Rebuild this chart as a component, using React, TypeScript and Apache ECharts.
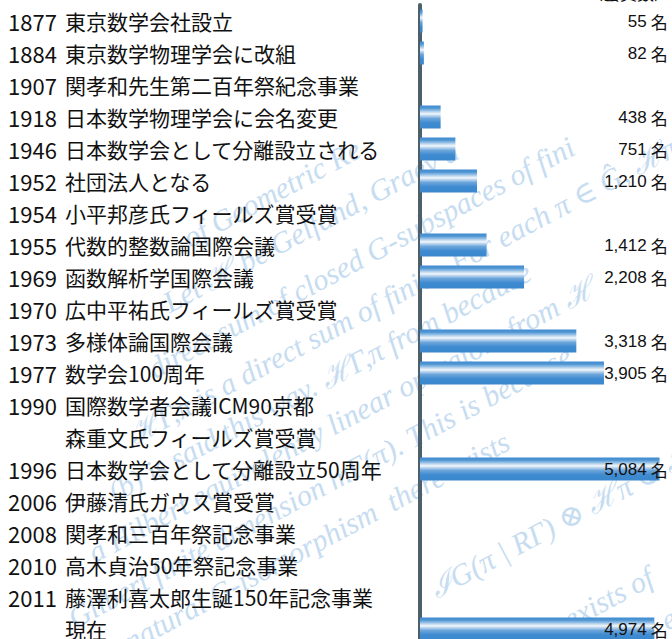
import React, { useEffect, useRef } from "react";
import * as echarts from "echarts";

// ---- data ----
const years: string[] = [
  "1877", "1884", "1907", "1918", "1946", "1952", "1954", "1955", "1969", "1970",
  "1973", "1977", "1990", "", "1996", "2006", "2008", "2010", "2011", "",
];
const events: string[] = [
  "東京数学会社設立",
  "東京数学物理学会に改組",
  "関孝和先生第二百年祭紀念事業",
  "日本数学物理学会に会名変更",
  "日本数学会として分離設立される",
  "社団法人となる",
  "小平邦彦氏フィールズ賞受賞",
  "代数的整数論国際会議",
  "函数解析学国際会議",
  "広中平祐氏フィールズ賞受賞",
  "多様体論国際会議",
  "数学会100周年",
  "国際数学者会議ICM90京都",
  "森重文氏フィールズ賞受賞",
  "日本数学会として分離設立50周年",
  "伊藤清氏ガウス賞受賞",
  "関孝和三百年祭記念事業",
  "高木貞治50年祭記念事業",
  "藤澤利喜太郎生誕150年記念事業",
  "現在",
];
const members: (number | null)[] = [
  55, 82, null, 438, 751, 1210, null, 1412, 2208, null,
  3318, 3905, null, null, 5084, null, null, null, null, 4974,
];
const unitLabel = "（会員数）";
const unitSuffix = "名";
const axisMax = 5300;

// decorative background text
const watermarkLines: string[] = [
  "of Geometric Representation, the π-isotypic ) . Gelfand",
  "Let ℋ be Gelfand, Graev and Piatetski-Shapiro",
  "direct sum of closed G-subspaces of finite",
  "ℋΓ,π is a direct sum of finite. For each π ∈ Ĝ, ℋπ",
  "(b) is said this way. ℋΓ,π from because",
  "a Hilbert equivalently linear operators from ℋ",
  "Gilbert finite dimension mΓ(π). This is because",
  "of the natural G-isomorphism  there exists",
  "ℐG(π | RΓ) ⊗ ℋπ ⊕ ℋ",
  "exists of",
  "for each",
];

export default function App() {
  const ref = useRef<HTMLDivElement>(null);
  useEffect(() => {
    if (!ref.current) return;
    const chart = echarts.init(ref.current, undefined, { renderer: "svg" });

    const ang = 0.49;
    const slope = Math.tan(ang);
    const sinA = Math.sin(ang);
    const yAt300 = [178, 232, 290, 345, 392, 442, 497, 550, 660, 762, 815];
    const startsX = [185, 165, 150, 130, 110, 90, 70, 60, 432, 565, 625];
    const watermark = watermarkLines.map((t, k) => {
      const sx = startsX[k];
      const sy = yAt300[k] + (300 - sx) * slope;
      const w = Math.max(20, (sy - 140) / sinA);
      return {
        type: "text",
        x: sx,
        y: sy,
        rotation: ang,
        silent: true,
        z: -10,
        style: {
          text: t,
          fill: "#c6dcf1",
          font: 'italic 30px "Liberation Serif", "DejaVu Serif", serif',
          textAlign: "left",
          textVerticalAlign: "middle",
          align: "left",
          verticalAlign: "middle",
          width: w,
          overflow: "truncate",
          ellipsis: " ",
        },
      };
    });

    const gradient = new echarts.graphic.LinearGradient(0, 0, 0, 1, [
      { offset: 0, color: "#3e8ad0" },
      { offset: 0.12, color: "#5197d4" },
      { offset: 0.36, color: "#f2f7fc" },
      { offset: 0.56, color: "#6ea6dc" },
      { offset: 0.75, color: "#3f8bd0" },
      { offset: 1, color: "#3a87cd" },
    ]);

    chart.setOption({
      animation: false,
      backgroundColor: "#ffffff",
      graphic: [
        ...watermark,
        {
          type: "text",
          x: 671,
          y: -8,
          silent: true,
          style: {
            text: unitLabel,
            fill: "#111",
            font: '17px "Noto Sans CJK JP"',
            textAlign: "right",
            textVerticalAlign: "middle",
            align: "right",
            verticalAlign: "middle",
          },
        },
      ],
      grid: { left: 420, right: 2.3, top: 5, height: 640, containLabel: false },
      xAxis: {
        type: "value",
        min: 0,
        max: axisMax,
        show: false,
      },
      yAxis: {
        type: "category",
        inverse: true,
        data: events,
        offset: 2,
        axisLine: { show: true, lineStyle: { color: "#4d5f6b", width: 4 } },
        axisTick: { show: false },
        splitLine: { show: false },
        axisLabel: {
          align: "left",
          margin: 410,
          color: "#111",
          formatter: (value: string, index: number) =>
            `{y|${years[index] || " "}}{e|${value}}`,
          rich: {
            y: {
              width: 57,
              fontSize: 22,
              fontFamily: "Noto Sans CJK JP",
              color: "#111",
              align: "left",
            },
            e: {
              fontSize: 21,
              fontFamily: "Noto Sans CJK JP",
              color: "#111",
            },
          },
        },
      },
      series: [
        {
          type: "bar",
          data: members,
          barWidth: 23,
          silent: true,
          itemStyle: { color: gradient },
        },
        {
          type: "bar",
          data: members.map((v) => (v == null ? null : axisMax)),
          barWidth: 23,
          barGap: "-100%",
          silent: true,
          z: 3,
          itemStyle: { color: "rgba(0,0,0,0)" },
          label: {
            show: true,
            position: "insideRight",
            distance: 2,
            formatter: (p: any) => {
              const v = members[p.dataIndex];
              return v == null ? "" : `{n|${v.toLocaleString("en-US")}}{u|${unitSuffix}}`;
            },
            rich: {
              n: {
                fontSize: 17,
                fontFamily: '"Liberation Sans", Arial, sans-serif',
                color: "#111",
              },
              u: {
                fontSize: 17,
                fontFamily: "Noto Sans CJK JP",
                color: "#111",
                padding: [0, 0, 0, 4],
              },
            },
          },
        },
      ],
    });
    return () => chart.dispose();
  }, []);

  return (
    <div style={{ position: "absolute", left: 0, top: 0, width: 672, height: 639, overflow: "hidden" }}>
      <div ref={ref} style={{ width: 672, height: 660 }} />
    </div>
  );
}
